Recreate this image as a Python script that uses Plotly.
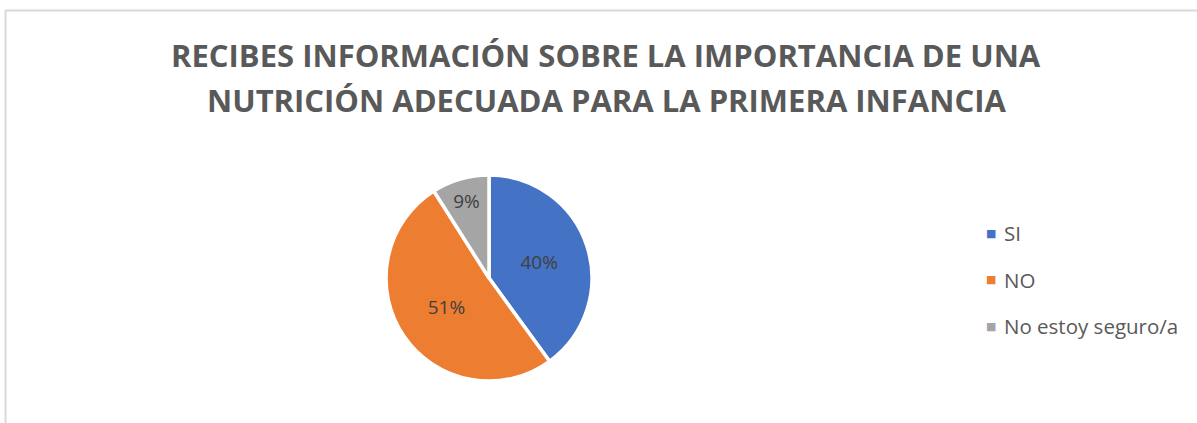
import plotly.graph_objects as go

# data
labels = ['SI', 'NO', 'No estoy seguro/a']
values = [40, 51, 9]
colors = ['#4472C4', '#ED7D31', '#A5A5A5']
title_lines = ['RECIBES INFORMACIÓN SOBRE LA IMPORTANCIA DE UNA',
               'NUTRICIÓN ADECUADA PARA LA PRIMERA INFANCIA']

W, H = 1197, 423
FONT = 'Open Sans'

fig = go.Figure(
    go.Pie(
        labels=labels,
        values=values,
        sort=False,
        direction='clockwise',
        rotation=0,
        marker=dict(colors=colors, line=dict(color='white', width=3.5)),
        texttemplate='%{percent:.0%}',
        textposition='inside',
        insidetextorientation='horizontal',
        textfont=dict(size=19, color='#404040', family=FONT),
        domain=dict(x=[(489 - 103) / W, (489 + 103) / W],
                    y=[(145 - 103) / H, (145 + 103) / H]),
        hoverinfo='label+percent',
        showlegend=False,
    )
)

# title, two centred bold lines
for i, line in enumerate(title_lines):
    fig.add_annotation(text=f'<b>{line}</b>', xref='paper', yref='paper',
                       x=606 / W, y=(H - 55 - 45 * i) / H,
                       xanchor='center', yanchor='middle', showarrow=False,
                       font=dict(size=31, color='#595959', family=FONT))

# legend on the right, excel style spacing
for i, (lab, col) in enumerate(zip(labels, colors)):
    ypos = (H - 233 - 46.5 * i) / H
    fig.add_annotation(text='■', xref='paper', yref='paper',
                       x=991 / W, y=ypos, xanchor='center', yanchor='middle',
                       showarrow=False, font=dict(size=11, color=col, family='DejaVu Sans'))
    fig.add_annotation(text=lab, xref='paper', yref='paper',
                       x=1002 / W, y=ypos, xanchor='left', yanchor='middle',
                       showarrow=False, font=dict(size=20.5, color='#595959', family=FONT))

# light frame like the excel chart area
fig.add_shape(type='line', xref='paper', yref='paper',
              x0=5.5 / W, x1=5.5 / W, y0=0, y1=(H - 10) / H,
              line=dict(color='#d9d9d9', width=2))
fig.add_shape(type='line', xref='paper', yref='paper',
              x0=5.5 / W, x1=1, y0=(H - 10.5) / H, y1=(H - 10.5) / H,
              line=dict(color='#d9d9d9', width=2))

fig.update_layout(
    width=W,
    height=H,
    margin=dict(l=0, r=0, t=0, b=0),
    paper_bgcolor='white',
    plot_bgcolor='white',
    font=dict(family=FONT, color='#595959'),
    showlegend=False,
)

fig.write_html('out.html', config={'displayModeBar': False},
               post_script="document.body.style.margin='0px';")
